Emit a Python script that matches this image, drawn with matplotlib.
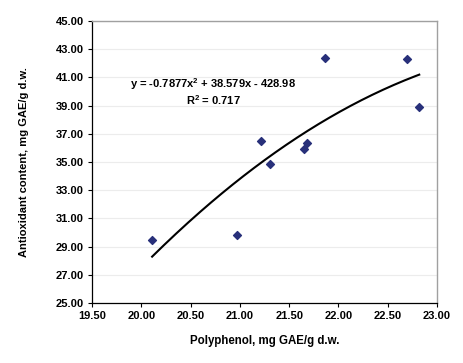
import numpy as np
import matplotlib
matplotlib.use("Agg")
import matplotlib.pyplot as plt

plt.rcParams['font.family'] = ['Liberation Sans', 'DejaVu Sans']
plt.rcParams['mathtext.fontset'] = 'custom'
plt.rcParams['mathtext.rm'] = 'Liberation Sans:bold'
plt.rcParams['mathtext.default'] = 'rm'

# Data
polyphenol = [20.11, 20.97, 21.21, 21.31, 21.65, 21.68, 21.86, 22.70, 22.82]
antioxidant = [29.45, 29.82, 36.51, 34.84, 35.94, 36.33, 42.35, 42.28, 38.88]

# Trendline coefficients shown on chart (2nd order polynomial)
trend_coefs = [-0.7877, 38.579, -428.98]
trend_label = "y = -0.7877x$^{2}$ + 38.579x - 428.98"
r2_label = "R$^{2}$ = 0.717"

x_ticks = [19.50, 20.00, 20.50, 21.00, 21.50, 22.00, 22.50, 23.00]
y_ticks = [25.00, 27.00, 29.00, 31.00, 33.00, 35.00, 37.00, 39.00, 41.00, 43.00, 45.00]

fig = plt.figure(figsize=(4.63, 3.63), dpi=100)
ax = fig.add_axes([0.1987, 0.1653, 0.9438 - 0.1987, 0.9421 - 0.1653])

ax.set_xlim(19.5, 23.0)
ax.set_ylim(25.0, 45.0)

for yv in y_ticks:
    ax.axhline(yv, color='#ececec', lw=0.8, zorder=0)

xs = np.linspace(min(polyphenol), max(polyphenol), 200)
ax.plot(xs, np.polyval(trend_coefs, xs), color='black', lw=1.5, zorder=2)
ax.scatter(polyphenol, antioxidant, marker='D', s=16, color='#28307a', zorder=3)

ax.set_xticks(x_ticks)
ax.set_yticks(y_ticks)
ax.set_xticklabels([f"{v:.2f}" for v in x_ticks], fontsize=8, fontweight='bold')
ax.set_yticklabels([f"{v:.2f}" for v in y_ticks], fontsize=8, fontweight='bold')
ax.tick_params(direction='out', length=3, width=0.8, pad=3)

for s in ['left', 'bottom']:
    ax.spines[s].set_color('black')
    ax.spines[s].set_linewidth(0.9)
for s in ['right', 'top']:
    ax.spines[s].set_color('#a0a0a0')
    ax.spines[s].set_linewidth(1.0)

ax.set_xlabel("Polyphenol, mg GAE/g d.w.", fontsize=8.3, fontweight='bold', labelpad=10)
ax.set_ylabel("Antioxidant content, mg GAE/g d.w.", fontsize=8, fontweight='bold', labelpad=19)

ax.text(20.73, 40.55, trend_label, fontsize=8, fontweight='bold', ha='center', va='center')
ax.text(20.73, 39.40, r2_label, fontsize=8, fontweight='bold', ha='center', va='center')

fig.savefig("out.png", dpi=100)
